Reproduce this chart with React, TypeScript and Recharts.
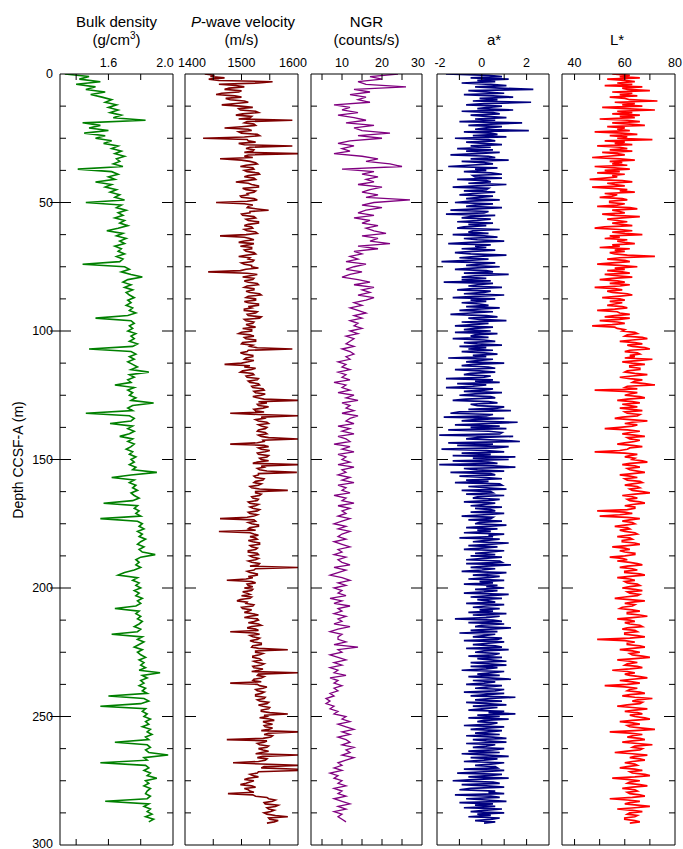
import React from 'react';
import { LineChart, Line, XAxis, YAxis } from 'recharts';

const W = 683;
const H = 849;
const PLOT_TOP = 74;
const PLOT_BOTTOM = 845;
const FONT = '"Liberation Sans", Arial, Helvetica, sans-serif';

// depth sampling grids (m CCSF-A)
const DEPTH_1M = Array.from({ length: 292 }, (_, i) => i);
const DEPTH_HALF_M = Array.from({ length: 584 }, (_, i) => i * 0.5);

const DEPTH_TICKS = [0, 12.5, 25, 37.5, 50, 62.5, 75, 87.5, 100, 112.5, 125, 137.5, 150, 162.5, 175, 187.5, 200, 212.5, 225, 237.5, 250, 262.5, 275, 287.5, 300];
const DEPTH_LABELS = [0, 50, 100, 150, 200, 250, 300];

// 1 m spacing
const BULK_DENSITY = [
  1.33, 1.48, 1.42, 1.55, 1.40, 1.52, 1.46, 1.58, 1.49, 1.56,
  1.62, 1.58, 1.65, 1.60, 1.66, 1.61, 1.68, 1.63, 1.83, 1.44,
  1.55, 1.48, 1.60, 1.45, 1.58, 1.52, 1.62, 1.57, 1.66, 1.62,
  1.68, 1.64, 1.70, 1.65, 1.67, 1.63, 1.69, 1.41, 1.62, 1.66,
  1.60, 1.64, 1.52, 1.62, 1.58, 1.65, 1.61, 1.67, 1.64, 1.70,
  1.46, 1.68, 1.65, 1.71, 1.66, 1.69, 1.64, 1.70, 1.67, 1.72,
  1.66, 1.59, 1.69, 1.65, 1.71, 1.67, 1.70, 1.64, 1.68, 1.66,
  1.70, 1.65, 1.69, 1.67, 1.44, 1.70, 1.73, 1.68, 1.74, 1.81,
  1.72, 1.69, 1.74, 1.70, 1.75, 1.71, 1.73, 1.76, 1.72, 1.74,
  1.71, 1.75, 1.73, 1.77, 1.72, 1.52, 1.74, 1.76, 1.73, 1.75,
  1.72, 1.77, 1.74, 1.76, 1.73, 1.78, 1.75, 1.48, 1.74, 1.77,
  1.73, 1.76, 1.72, 1.75, 1.78, 1.74, 1.85, 1.73, 1.76, 1.72,
  1.74, 1.64, 1.76, 1.72, 1.75, 1.73, 1.77, 1.74, 1.88, 1.75,
  1.72, 1.75, 1.46, 1.73, 1.76, 1.74, 1.61, 1.75, 1.72, 1.76,
  1.73, 1.67, 1.75, 1.72, 1.76, 1.74, 1.71, 1.75, 1.73, 1.77,
  1.74, 1.76, 1.73, 1.77, 1.75, 1.90, 1.74, 1.62, 1.76, 1.73,
  1.77, 1.75, 1.78, 1.74, 1.76, 1.79, 1.75, 1.57, 1.78, 1.76,
  1.79, 1.77, 1.80, 1.55, 1.78, 1.81, 1.79, 1.82, 1.78, 1.81,
  1.79, 1.83, 1.80, 1.78, 1.82, 1.79, 1.81, 1.89, 1.80, 1.77,
  1.79, 1.77, 1.80, 1.76, 1.70, 1.66, 1.78, 1.75, 1.79, 1.77,
  1.80, 1.76, 1.79, 1.77, 1.81, 1.78, 1.80, 1.77, 1.64, 1.79,
  1.77, 1.80, 1.78, 1.81, 1.79, 1.76, 1.80, 1.78, 1.62, 1.81,
  1.78, 1.82, 1.79, 1.76, 1.81, 1.78, 1.80, 1.83, 1.79, 1.82,
  1.80, 1.83, 1.79, 1.92, 1.81, 1.84, 1.80, 1.82, 1.79, 1.83,
  1.81, 1.84, 1.60, 1.82, 1.85, 1.80, 1.55, 1.83, 1.81, 1.84,
  1.82, 1.86, 1.83, 1.85, 1.81, 1.86, 1.84, 1.87, 1.83, 1.85,
  1.64, 1.84, 1.86, 1.83, 1.85, 1.97, 1.82, 1.84, 1.55, 1.83,
  1.85, 1.82, 1.86, 1.84, 1.90, 1.83, 1.85, 1.82, 1.86, 1.84,
  1.83, 1.86, 1.84, 1.58, 1.85, 1.82, 1.86, 1.84, 1.87, 1.83,
  1.88, 1.85,
];

// 0.5 m spacing
const P_WAVE = [
  1435, 1452, 1445, 1470, 1442, 1460, 1555, 1530, 1460, 1490, 1505, 1478, 1470, 1500, 1495, 1465, 1455, 1488, 1500, 1472,
  1480, 1505, 1512, 1490, 1465, 1498, 1520, 1495, 1498, 1525, 1530, 1502, 1490, 1518, 1515, 1495, 1590, 1510, 1505, 1522,
  1525, 1500, 1470, 1512, 1518, 1495, 1500, 1528, 1532, 1505, 1432, 1510, 1512, 1525, 1495, 1505, 1590, 1515, 1508, 1522,
  1520, 1505, 1600, 1512, 1505, 1520, 1462, 1500, 1515, 1525, 1528, 1508, 1498, 1520, 1522, 1505, 1510, 1530, 1532, 1512,
  1505, 1522, 1525, 1508, 1490, 1512, 1518, 1530, 1530, 1502, 1508, 1525, 1522, 1510, 1512, 1498, 1500, 1522, 1528, 1510,
  1455, 1505, 1520, 1512, 1510, 1528, 1548, 1515, 1515, 1500, 1502, 1522, 1525, 1508, 1512, 1530, 1530, 1512, 1505, 1518,
  1520, 1505, 1510, 1525, 1528, 1508, 1462, 1505, 1515, 1522, 1505, 1495, 1522, 1512, 1498, 1518, 1518, 1505, 1508, 1522,
  1525, 1508, 1495, 1515, 1512, 1522, 1520, 1500, 1505, 1518, 1518, 1530, 1508, 1498, 1441, 1510, 1528, 1515, 1502, 1522,
  1520, 1505, 1512, 1528, 1530, 1510, 1505, 1522, 1522, 1508, 1515, 1532, 1535, 1512, 1508, 1525, 1525, 1505, 1512, 1530,
  1530, 1512, 1518, 1505, 1505, 1528, 1525, 1510, 1512, 1535, 1532, 1505, 1508, 1522, 1520, 1508, 1515, 1525, 1502, 1518,
  1518, 1500, 1495, 1515, 1522, 1505, 1508, 1525, 1525, 1502, 1500, 1520, 1515, 1528, 1590, 1512, 1510, 1498, 1505, 1520,
  1520, 1508, 1505, 1522, 1512, 1500, 1470, 1515, 1505, 1525, 1518, 1502, 1498, 1520, 1522, 1508, 1510, 1530, 1528, 1512,
  1515, 1530, 1532, 1518, 1520, 1538, 1540, 1522, 1525, 1542, 1535, 1520, 1528, 1540, 1600, 1530, 1545, 1528, 1530, 1548,
  1538, 1522, 1525, 1540, 1480, 1530, 1600, 1535, 1540, 1525, 1530, 1545, 1548, 1530, 1535, 1545, 1542, 1530, 1528, 1542,
  1545, 1530, 1535, 1548, 1600, 1538, 1540, 1528, 1480, 1540, 1548, 1530, 1535, 1550, 1542, 1528, 1530, 1548, 1545, 1532,
  1535, 1548, 1528, 1520, 1600, 1535, 1540, 1528, 1532, 1545, 1598, 1530, 1530, 1522, 1525, 1540, 1538, 1525, 1522, 1535,
  1530, 1515, 1518, 1532, 1582, 1525, 1525, 1535, 1532, 1518, 1520, 1530, 1528, 1512, 1515, 1530, 1525, 1515, 1520, 1532,
  1528, 1512, 1515, 1528, 1522, 1510, 1462, 1522, 1525, 1512, 1518, 1530, 1530, 1515, 1512, 1525, 1460, 1515, 1522, 1530,
  1515, 1525, 1528, 1512, 1520, 1532, 1532, 1515, 1518, 1528, 1525, 1512, 1512, 1528, 1530, 1515, 1520, 1530, 1525, 1512,
  1518, 1532, 1530, 1515, 1600, 1525, 1522, 1510, 1515, 1528, 1528, 1512, 1520, 1508, 1474, 1518, 1525, 1510, 1512, 1520,
  1505, 1520, 1518, 1502, 1510, 1515, 1500, 1518, 1515, 1498, 1492, 1510, 1508, 1522, 1520, 1500, 1502, 1518, 1512, 1505,
  1520, 1530, 1515, 1505, 1528, 1530, 1522, 1512, 1530, 1535, 1518, 1510, 1525, 1530, 1480, 1522, 1532, 1515, 1520, 1532,
  1528, 1515, 1522, 1535, 1535, 1520, 1518, 1530, 1582, 1525, 1525, 1538, 1532, 1520, 1520, 1532, 1535, 1522, 1528, 1540,
  1535, 1520, 1522, 1538, 1530, 1518, 1600, 1530, 1528, 1540, 1535, 1522, 1520, 1535, 1480, 1528, 1532, 1545, 1538, 1525,
  1528, 1540, 1535, 1525, 1525, 1542, 1540, 1528, 1532, 1548, 1545, 1530, 1538, 1550, 1548, 1535, 1535, 1550, 1582, 1540,
  1545, 1532, 1550, 1558, 1538, 1545, 1555, 1540, 1542, 1555, 1548, 1535, 1600, 1548, 1540, 1555, 1552, 1538, 1474, 1545,
  1540, 1528, 1532, 1548, 1545, 1530, 1538, 1548, 1535, 1525, 1600, 1538, 1528, 1545, 1542, 1530, 1485, 1535, 1600, 1540,
  1535, 1600, 1600, 1530, 1528, 1515, 1520, 1530, 1512, 1505, 1522, 1515, 1508, 1498, 1518, 1525, 1505, 1512, 1515, 1522,
  1476, 1520, 1525, 1545, 1548, 1560, 1555, 1540, 1542, 1565, 1560, 1545, 1548, 1558, 1552, 1540, 1545, 1560, 1582, 1548,
  1550, 1565, 1558, 1545,
];

// 1 m spacing
const NGR = [
  24, 17, 20, 14, 16, 26, 13, 17, 12, 16,
  14, 17, 8, 12, 10, 14, 9, 13, 16, 11,
  18, 13, 15, 22, 14, 20, 12, 9, 13, 10,
  12, 8, 15, 19, 16, 22, 25, 10, 18, 15,
  19, 16, 18, 14, 20, 17, 15, 19, 16, 27,
  18, 15, 20, 16, 14, 18, 13, 17, 15, 19,
  16, 18, 21, 15, 19, 17, 22, 14, 19, 13,
  15, 12, 14, 11, 16, 13, 11, 15, 12, 10,
  14, 17, 13, 18, 15, 17, 14, 18, 16, 13,
  15, 12, 14, 16, 13, 15, 12, 14, 13, 15,
  12, 14, 11, 13, 12, 11, 13, 10, 12, 13,
  11, 12, 9, 11, 10, 12, 9, 11, 10, 12,
  8, 11, 10, 12, 9, 13, 11, 14, 10, 12,
  11, 13, 10, 14, 12, 11, 13, 9, 12, 10,
  13, 9, 11, 12, 8, 12, 10, 13, 9, 11,
  10, 12, 9, 13, 10, 11, 9, 12, 10, 13,
  9, 11, 10, 12, 8, 11, 10, 13, 9, 12,
  10, 11, 9, 12, 10, 8, 11, 9, 12, 10,
  9, 11, 8, 10, 12, 9, 10, 8, 11, 9,
  10, 12, 8, 11, 9, 7, 10, 12, 9, 11,
  8, 10, 9, 11, 7, 10, 8, 12, 9, 10,
  8, 11, 9, 10, 8, 12, 9, 7, 10, 9,
  9, 11, 8, 14, 9, 10, 7, 9, 11, 8,
  10, 7, 9, 8, 11, 7, 9, 8, 10, 8,
  9, 7, 8, 6, 7, 6, 8, 7, 9, 8,
  11, 10, 12, 9, 11, 13, 10, 12, 9, 11,
  12, 10, 13, 11, 12, 10, 13, 11, 9, 10,
  8, 10, 7, 9, 8, 10, 9, 11, 8, 10,
  9, 11, 8, 10, 12, 9, 11, 8, 10, 9,
  10, 11,
];

// 0.5 m spacing
const A_STAR = [
  -1.6, 0.3, 0.9, -0.5, 1.2, -0.2, 0.6, -0.9, 0.4, 1.1, -0.3, 0.8, 2.3, -0.6, 0.2, 1.0, -0.8, 0.5, 1.4, -0.1,
  0.7, -0.4, 2.2, 0.1, -0.7, 0.9, 0.3, -0.2, 1.4, -0.9, 0.5, 0.8, -0.5, 0.2, 1.1, -0.3, 0.6, -1.0, 1.8, 0.4,
  -0.6, 0.9, 0.2, -0.3, 2.1, -0.8, 0.4, 0.7, -0.4, 1.1, -1.2, 0.3, 0.6, -0.7, 0.1, 0.9, -0.5, 0.4, -1.1, 0.5,
  -0.7, 0.8, -0.2, -1.4, 0.3, 0.6, -0.5, 1.2, -0.9, 0.1, 0.5, -0.6, -1.5, 0.7, -0.3, 0.2, -0.8, 0.4, 0.9, -0.4,
  -0.3, 0.9, -1.1, 0.2, 0.4, -0.6, 1.1, -0.2, -1.3, 0.3, 0.2, -0.8, 0.6, -0.4, -1.0, 0.5, -0.1, -0.7, 0.8, -0.5,
  -1.2, 0.5, -0.3, -0.7, 0.9, -0.2, -1.4, 0.3, 0.1, -1.6, 0.6, -0.5, -0.9, 0.4, -0.2, -1.1, 0.5, -0.6, 0.2, -0.8,
  -1.1, 0.8, -0.4, -0.6, 0.3, -1.3, 0.1, 0.7, -0.8, -0.2, 1.0, -0.5, -1.5, 0.4, -0.3, 0.2, -0.9, 0.6, -0.4, -1.2,
  -0.5, 1.1, -0.2, -1.0, 0.3, -0.6, -1.8, 0.6, -0.1, -0.7, 0.8, -0.4, -1.2, 0.2, 0.5, -0.8, 1.2, -0.3, -0.9, 0.2,
  -0.9, 0.4, -1.7, 0.5, -0.2, -0.6, 0.9, -0.4, -1.1, 0.4, 0.1, -0.8, 1.0, -0.3, -1.3, 0.6, -0.5, 0.2, -0.9, -0.1,
  0.3, -0.7, 0.8, -0.2, -1.0, 0.5, -0.5, -1.4, 0.2, 0.7, -0.6, -0.1, 1.1, -0.9, 0.3, -0.4, -1.2, 0.5, -0.3, -0.8,
  0.4, -1.2, 0.7, -0.3, -0.5, 0.3, -1.3, 0.1, 0.6, -0.8, -0.2, 0.9, -1.0, 0.2, -0.6, 0.5, -0.9, 0.1, 0.7, -0.4,
  0.2, -1.5, 0.5, -0.2, -0.7, 1.0, -0.4, -0.9, 0.3, 0.6, -1.2, -0.1, 0.6, -0.5, -0.8, 0.4, 0.1, -1.6, 0.5, -0.3,
  0.8, -1.1, 0.2, -0.4, -1.6, 0.5, 0.1, -0.8, 0.9, -0.3, -1.0, 0.4, 0.6, -0.7, -1.3, 0.3, 0.7, -0.5, -0.2, 1.0,
  0.7, -0.6, 1.3, -1.0, -1.4, 0.5, 0.2, -1.7, 1.0, -0.3, -0.9, 1.6, 0.4, -1.2, 0.8, -0.5, 1.1, -1.5, 0.3, 0.9,
  0.8, -1.9, 1.4, -0.2, -0.7, 0.9, 1.7, -1.5, 0.5, -1.1, 1.2, 0.6, -1.8, 0.2, 1.0, -0.9, 0.4, -1.3, 1.5, -0.4,
  1.2, -1.3, 0.3, 0.7, -1.9, 0.5, 1.5, -0.8, -0.2, 1.0, -1.4, 0.4, 0.6, -1.0, 0.2, 0.9, -0.7, 0.3, -1.2, 0.8,
  0.9, -0.6, 0.2, 1.1, -0.9, 0.4, 0.5, -0.7, 1.0, -0.2, -0.4, 0.8, 0.3, -0.8, 0.6, 0.1, -0.5, 0.9, -0.3, 0.4,
  0.6, -0.5, 1.0, 0.1, -0.9, 0.5, 0.4, -0.6, 0.9, -0.1, -0.3, 1.1, 0.2, -0.7, 0.7, -0.2, 0.4, -0.8, 1.0, 0.3,
  0.5, -1.0, 0.8, 0.2, -0.4, 1.2, 0.3, -0.6, 0.7, 0.0, -0.8, 1.0, 0.4, -0.3, 0.6, -0.5, 0.9, 0.1, -0.7, 0.8,
  0.9, -0.7, 1.3, 0.2, -0.5, 0.6, 0.0, -0.9, 1.1, 0.4, -0.4, 0.8, 0.3, -0.6, 1.0, -0.1, 0.5, -0.8, 0.7, 0.2,
  1.0, -0.3, 0.7, 0.1, -0.8, 1.2, 0.4, -0.5, 0.9, -0.2, 0.3, 0.6, -0.7, 1.0, 0.2, -0.4, 0.8, -0.1, 0.5, -0.6,
  1.1, -0.4, 0.8, 0.2, -1.2, 0.5, 0.9, -0.6, 1.0, 0.0, -0.3, 1.3, 0.4, -0.5, 0.7, -1.0, 0.6, 0.1, -0.4, 0.9,
  0.7, -0.8, 1.0, 0.3, -0.4, 0.6, 0.9, -0.7, 1.2, 0.1, -0.3, 0.8, 0.5, -0.6, 0.9, -0.2, 0.4, 1.1, -0.5, 0.3,
  1.1, -0.5, 0.7, 0.2, -0.9, 1.0, 0.4, -0.2, 0.8, -0.6, 0.3, 1.3, -0.4, 0.6, 0.1, -0.7, 0.9, 0.3, -0.3, 1.0,
  0.6, -0.8, 1.0, 0.2, -0.5, 1.5, 0.4, -0.3, 0.9, -0.7, 0.2, 1.1, -0.4, 0.7, 0.0, -0.6, 1.0, 0.3, 1.5, -0.2,
  0.8, -0.6, 1.2, 0.1, -0.2, 0.7, 0.4, -0.8, 1.0, 0.2, -0.5, 0.9, 0.3, -0.3, 0.8, -0.7, 0.5, 1.1, -0.4, 0.2,
  1.1, -0.7, 0.6, 0.2, -0.4, 1.0, 0.5, -0.6, 0.8, -0.9, 0.3, 1.2, -0.5, 0.7, 0.1, -0.8, 1.0, 0.4, -0.3, 0.6,
  0.7, -0.8, 1.0, 0.1, -1.1, 0.9, 0.3, -0.6, 1.2, -0.2, -1.3, 0.5, 0.8, -0.9, 0.2, 1.0, -0.5, -1.0, 0.6, 0.3,
  1.0, -1.2, 0.4, 0.8, -0.7, 0.2, 1.1, -1.0, 0.5, -0.3, 0.6, -0.8, 0.9, 0.1, -0.5, 1.0, -0.2, 0.4, -0.6, 0.8,
  0.4, -0.3, 0.6, 0.1,
];

// 0.5 m spacing
const L_STAR = [
  55, 62, 58, 66, 53, 60, 64, 57, 63, 52, 67, 59, 61, 70, 55, 63, 58, 65, 54, 60,
  62, 73, 56, 64, 59, 67, 51, 60, 72, 57, 63, 55, 66, 58, 64, 50, 61, 66, 55, 62,
  68, 53, 60, 57, 62, 48, 59, 65, 54, 61, 57, 71, 52, 60, 56, 63, 49, 58, 61, 54,
  63, 51, 57, 60, 53, 47, 58, 64, 54, 59, 55, 61, 48, 56, 62, 52, 58, 49, 60, 55,
  57, 52, 46, 59, 63, 53, 56, 60, 47, 55, 61, 58, 64, 52, 57, 55, 50, 59, 61, 54,
  54, 60, 57, 49, 62, 65, 55, 58, 60, 51, 56, 66, 59, 53, 57, 61, 55, 59, 63, 52,
  48, 58, 63, 55, 60, 67, 54, 58, 52, 61, 57, 60, 64, 55, 58, 50, 62, 56, 60, 54,
  56, 61, 72, 58, 53, 60, 62, 55, 49, 58, 65, 56, 60, 53, 59, 62, 52, 57, 63, 55,
  50, 57, 60, 54, 62, 58, 48, 56, 59, 53, 55, 61, 63, 57, 51, 58, 60, 54, 59, 56,
  53, 59, 61, 56, 49, 57, 58, 62, 56, 52, 62, 58, 50, 57, 60, 55, 47, 56, 57, 60,
  59, 64, 65, 61, 60, 67, 69, 63, 58, 64, 67, 61, 63, 68, 70, 62, 60, 65, 66, 62,
  64, 60, 71, 65, 59, 63, 68, 62, 62, 66, 66, 61, 60, 64, 69, 63, 58, 62, 67, 64,
  63, 68, 72, 61, 60, 65, 48, 60, 65, 62, 60, 66, 68, 61, 57, 63, 66, 59, 62, 65,
  58, 63, 67, 60, 61, 66, 65, 59, 56, 62, 69, 63, 60, 65, 63, 58, 52, 61, 66, 62,
  59, 64, 68, 61, 62, 66, 64, 60, 57, 63, 67, 62, 61, 58, 48, 60, 65, 62, 60, 64,
  63, 67, 69, 62, 59, 64, 66, 61, 62, 65, 68, 63, 58, 62, 65, 60, 61, 66, 67, 63,
  60, 65, 66, 62, 63, 67, 70, 64, 59, 63, 65, 61, 62, 66, 68, 63, 60, 64, 64, 61,
  49, 60, 63, 58, 50, 61, 66, 62, 59, 63, 64, 60, 56, 61, 62, 58, 60, 64, 65, 61,
  57, 62, 63, 59, 59, 64, 66, 61, 55, 60, 62, 58, 60, 64, 64, 60, 54, 59, 61, 57,
  62, 65, 67, 61, 58, 63, 65, 60, 60, 66, 68, 62, 57, 62, 64, 60, 61, 65, 66, 62,
  59, 64, 67, 61, 62, 66, 65, 60, 56, 62, 68, 63, 60, 64, 63, 59, 58, 63, 66, 61,
  61, 66, 69, 63, 57, 62, 64, 60, 62, 66, 67, 61, 59, 64, 65, 60, 60, 65, 68, 62,
  49, 60, 64, 61, 61, 66, 68, 63, 58, 63, 66, 62, 63, 67, 70, 64, 57, 62, 65, 61,
  60, 65, 67, 62, 55, 61, 64, 60, 62, 66, 69, 63, 58, 63, 66, 61, 52, 60, 65, 62,
  61, 66, 68, 62, 59, 64, 71, 65, 63, 67, 66, 61, 57, 63, 69, 64, 60, 65, 67, 62,
  64, 68, 70, 63, 58, 63, 66, 61, 62, 67, 72, 64, 54, 62, 67, 63, 61, 66, 68, 63,
  59, 65, 71, 64, 63, 67, 66, 61, 56, 63, 69, 64, 62, 66, 68, 63, 60, 64, 65, 61,
  58, 64, 67, 62, 63, 68, 70, 64, 55, 61, 66, 62, 61, 66, 69, 63, 59, 64, 65, 61,
  62, 66, 68, 63, 54, 61, 66, 62, 60, 65, 70, 64, 57, 63, 67, 62, 61, 65, 64, 60,
  60, 64, 66, 62,
];

type Spec = {
  id: string;
  left: number;
  right: number;
  domain: [number, number];
  ticks: number[];
  labels: number[];
  labelShift: Record<string, number>;
  decimals: number;
  color: string;
  width: number;
  depths: number[];
  values: number[];
  first: boolean;
};

const PANELS: Spec[] = [
  { id: 'rho', left: 60, right: 173, domain: [1.3, 2.0], ticks: [1.4, 1.6, 1.8, 2.0], labels: [1.6, 2.0], labelShift: { '2': -8 }, decimals: 1, color: '#008000', width: 1.6, depths: DEPTH_1M, values: BULK_DENSITY, first: true },
  { id: 'vp', left: 185, right: 298, domain: [1400, 1600], ticks: [1400, 1450, 1500, 1550, 1600], labels: [1400, 1500, 1600], labelShift: { '1400': 7, '1600': -5 }, decimals: 0, color: '#7f0000', width: 1.6, depths: DEPTH_HALF_M, values: P_WAVE, first: false },
  { id: 'ngr', left: 311, right: 422, domain: [2.25, 30], ticks: [5, 10, 15, 20, 25, 30], labels: [10, 20, 30], labelShift: { '30': -4 }, decimals: 0, color: '#800080', width: 1.3, depths: DEPTH_1M, values: NGR, first: false },
  { id: 'a', left: 437, right: 549, domain: [-2, 3], ticks: [-2, -1, 0, 1, 2], labels: [-2, 0, 2], labelShift: { '-2': 3 }, decimals: 0, color: '#000080', width: 1.7, depths: DEPTH_HALF_M, values: A_STAR, first: false },
  { id: 'l', left: 562, right: 675, domain: [35, 80], ticks: [40, 50, 60, 70, 80], labels: [40, 60, 80], labelShift: {}, decimals: 0, color: '#ff0000', width: 1.7, depths: DEPTH_HALF_M, values: L_STAR, first: false },
];

function Panel({ spec }: { spec: Spec }) {
  const data = spec.depths.map((d, i) => ({ depth: d, v: spec.values[i] }));
  const [d0, d1] = spec.domain;
  const inside = (v: number) => v > d0 + 1e-9 && v < d1 - 1e-9;

  const topTick = (p: any) => {
    const x = p.x;
    const v = p.payload.value;
    return (
      <g>
        {inside(v) && <line x1={x} x2={x} y1={PLOT_TOP} y2={PLOT_TOP + 6} stroke="#000" strokeWidth={1} />}
        {spec.labels.includes(v) && (
          <text x={x + (spec.labelShift[String(v)] || 0)} y={67} textAnchor="middle" fontSize={12.5} fontFamily={FONT} fill="#000">
            {v.toFixed(spec.decimals)}
          </text>
        )}
      </g>
    );
  };
  const bottomTick = (p: any) => {
    const x = p.x;
    const v = p.payload.value;
    return <g>{inside(v) && <line x1={x} x2={x} y1={PLOT_BOTTOM} y2={PLOT_BOTTOM - 6} stroke="#000" strokeWidth={1} />}</g>;
  };
  const leftTick = (p: any) => {
    const y = p.y;
    const v = p.payload.value;
    const major = v % 50 === 0;
    const isEdge = v === 0 || v === 300;
    return (
      <g>
        {!isEdge && (
          <line x1={spec.left - (major && spec.first ? 10 : 0)} x2={spec.left + (major ? 11 : 6)} y1={y} y2={y} stroke="#000" strokeWidth={1} />
        )}
        {spec.first && DEPTH_LABELS.includes(v) && (
          <text x={53} y={y} dy={v === 300 ? '0.2em' : '0.35em'} textAnchor="end" fontSize={12.5} fontFamily={FONT} fill="#000">
            {v}
          </text>
        )}
      </g>
    );
  };
  const rightTick = (p: any) => {
    const y = p.y;
    const v = p.payload.value;
    const major = v % 50 === 0;
    const isEdge = v === 0 || v === 300;
    return <g>{!isEdge && <line x1={spec.right} x2={spec.right - (major ? 11 : 6)} y1={y} y2={y} stroke="#000" strokeWidth={1} />}</g>;
  };

  return (
    <div style={{ position: 'absolute', left: 0, top: 0, width: W, height: H }}>
      <LineChart
        width={W}
        height={H}
        data={data}
        layout="vertical"
        margin={{ top: PLOT_TOP - 1, bottom: H - PLOT_BOTTOM - 1, left: spec.left - 1, right: W - spec.right - 1 }}
      >
        <XAxis xAxisId="top" orientation="top" type="number" domain={spec.domain} ticks={spec.ticks} interval={0} allowDataOverflow height={1} tick={topTick} tickLine={false} axisLine={{ stroke: '#000', strokeWidth: 1 }} />
        <XAxis xAxisId="bottom" orientation="bottom" type="number" domain={spec.domain} ticks={spec.ticks} interval={0} allowDataOverflow height={1} tick={bottomTick} tickLine={false} axisLine={{ stroke: '#000', strokeWidth: 1 }} />
        <YAxis yAxisId="left" orientation="left" dataKey="depth" type="number" domain={[0, 300]} ticks={DEPTH_TICKS} interval={0} allowDataOverflow width={1} tick={leftTick} tickLine={false} axisLine={{ stroke: '#000', strokeWidth: 1 }} />
        <YAxis yAxisId="right" orientation="right" dataKey="depth" type="number" domain={[0, 300]} ticks={DEPTH_TICKS} interval={0} allowDataOverflow width={1} tick={rightTick} tickLine={false} axisLine={{ stroke: '#000', strokeWidth: 1 }} />
        <Line xAxisId="top" yAxisId="left" dataKey="v" type="linear" stroke={spec.color} strokeWidth={spec.width} dot={false} activeDot={false} isAnimationActive={false} />
      </LineChart>
    </div>
  );
}

function Titles() {
  const t = { fontSize: 15, fontFamily: FONT, fill: '#000', textAnchor: 'middle' as const };
  return (
    <svg width={W} height={H} style={{ position: 'absolute', left: 0, top: 0, pointerEvents: 'none' }}>
      <text x={116.5} y={27} {...t}>Bulk density</text>
      <text x={116.5} y={45} {...t}>
        (g/cm<tspan fontSize={10} dy={-6}>3</tspan><tspan dy={6}>)</tspan>
      </text>
      <text x={243} y={27} {...t}>
        <tspan fontStyle="italic">P</tspan>-wave velocity
      </text>
      <text x={241.5} y={45} {...t}>(m/s)</text>
      <text x={366.5} y={27} {...t}>NGR</text>
      <text x={366.5} y={45} {...t}>(counts/s)</text>
      <text x={494} y={45} {...t}>a*</text>
      <text x={617} y={45} {...t}>L*</text>
      <text x={23} y={460} {...t} fontSize={14} transform="rotate(-90, 23, 460)">Depth CCSF-A (m)</text>
    </svg>
  );
}

export default function App() {
  return (
    <div style={{ position: 'absolute', left: 0, top: 0, width: W, height: H, background: '#fff', overflow: 'hidden' }}>
      {PANELS.map((s) => (
        <Panel key={s.id} spec={s} />
      ))}
      <Titles />
    </div>
  );
}
